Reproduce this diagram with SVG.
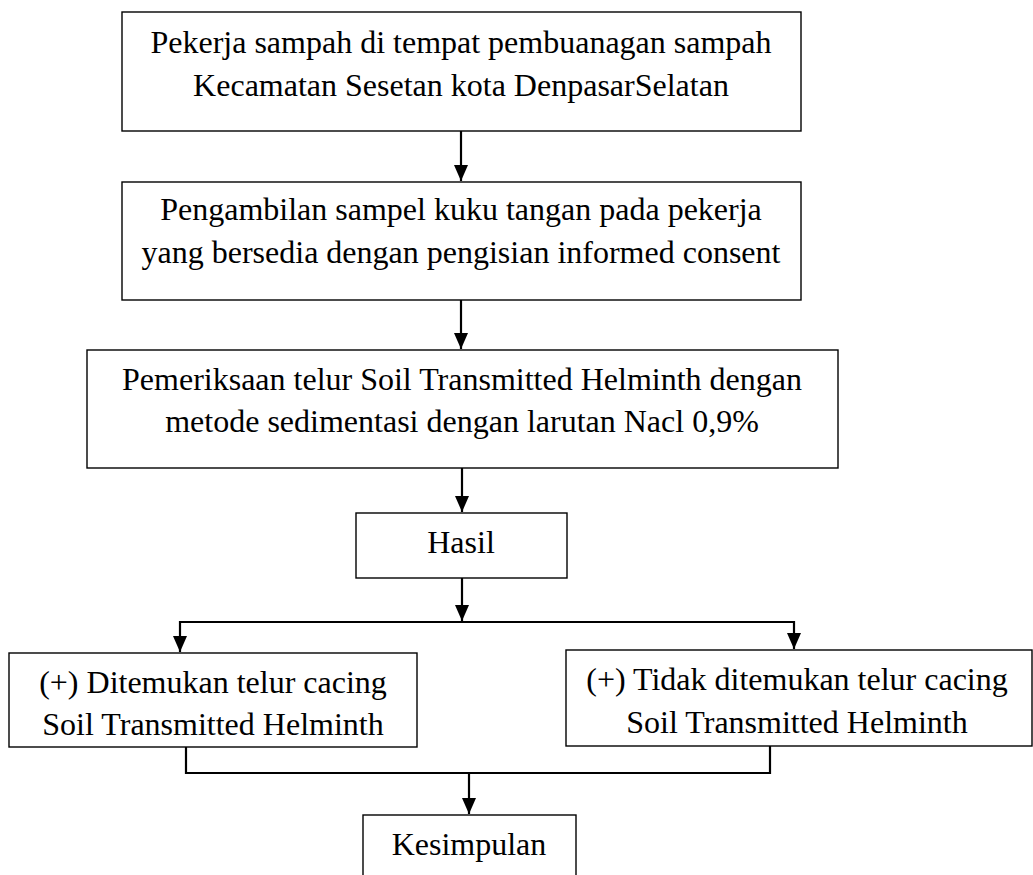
<svg xmlns="http://www.w3.org/2000/svg" width="1033" height="875" viewBox="0 0 1033 875">
<style>
.box{fill:#fff;stroke:#000;stroke-width:1.4}
.t{font-family:"Liberation Serif","Times New Roman",serif;font-size:32px;fill:#000;text-anchor:middle}
.c{fill:none;stroke:#000;stroke-width:2.2}
</style>
<defs>
<marker id="ah" viewBox="0 0 16 14" refX="16" refY="7" markerWidth="16" markerHeight="14" markerUnits="userSpaceOnUse" orient="auto">
<path d="M0,0 L16,7 L0,14 z" fill="#000"/>
</marker>
</defs>
<rect width="1033" height="875" fill="#fff"/>
<g id="connectors">
<path class="c" d="M461,131 V181" marker-end="url(#ah)"/>
<path class="c" d="M461,300 V349" marker-end="url(#ah)"/>
<path class="c" d="M462,468 V512" marker-end="url(#ah)"/>
<path class="c" d="M462,578 V621" marker-end="url(#ah)"/>
<path class="c" d="M180,622 H794"/>
<path class="c" d="M180,621 V652" marker-end="url(#ah)"/>
<path class="c" d="M794,621 V649" marker-end="url(#ah)"/>
<path class="c" d="M186,747 V773 H770 V746"/>
<path class="c" d="M469,772 V814" marker-end="url(#ah)"/>
</g>
<g id="n1">
<rect class="box" x="122" y="12" width="679" height="119"/>
<text class="t" x="461" y="53">Pekerja sampah di tempat pembuanagan sampah</text>
<text class="t" x="461" y="96">Kecamatan Sesetan kota DenpasarSelatan</text>
</g>
<g id="n2">
<rect class="box" x="122" y="182" width="679" height="118"/>
<text class="t" x="461" y="220">Pengambilan sampel kuku tangan pada pekerja</text>
<text class="t" x="461" y="263">yang bersedia dengan pengisian informed consent</text>
</g>
<g id="n3">
<rect class="box" x="87" y="350" width="751" height="118"/>
<text class="t" x="462" y="390">Pemeriksaan telur Soil Transmitted Helminth dengan</text>
<text class="t" x="462" y="432">metode sedimentasi dengan larutan Nacl 0,9%</text>
</g>
<g id="n4">
<rect class="box" x="356" y="513" width="211" height="65"/>
<text class="t" x="461" y="553">Hasil</text>
</g>
<g id="n5">
<rect class="box" x="9" y="653" width="408" height="94"/>
<text class="t" x="213" y="693">(+) Ditemukan telur cacing</text>
<text class="t" x="213" y="735">Soil Transmitted Helminth</text>
</g>
<g id="n6">
<rect class="box" x="566" y="650" width="466" height="96"/>
<text class="t" x="797" y="690">(+) Tidak ditemukan telur cacing</text>
<text class="t" x="797" y="733">Soil Transmitted Helminth</text>
</g>
<g id="n7">
<rect class="box" x="363" y="815" width="213" height="70"/>
<text class="t" x="469" y="855">Kesimpulan</text>
</g>
</svg>
